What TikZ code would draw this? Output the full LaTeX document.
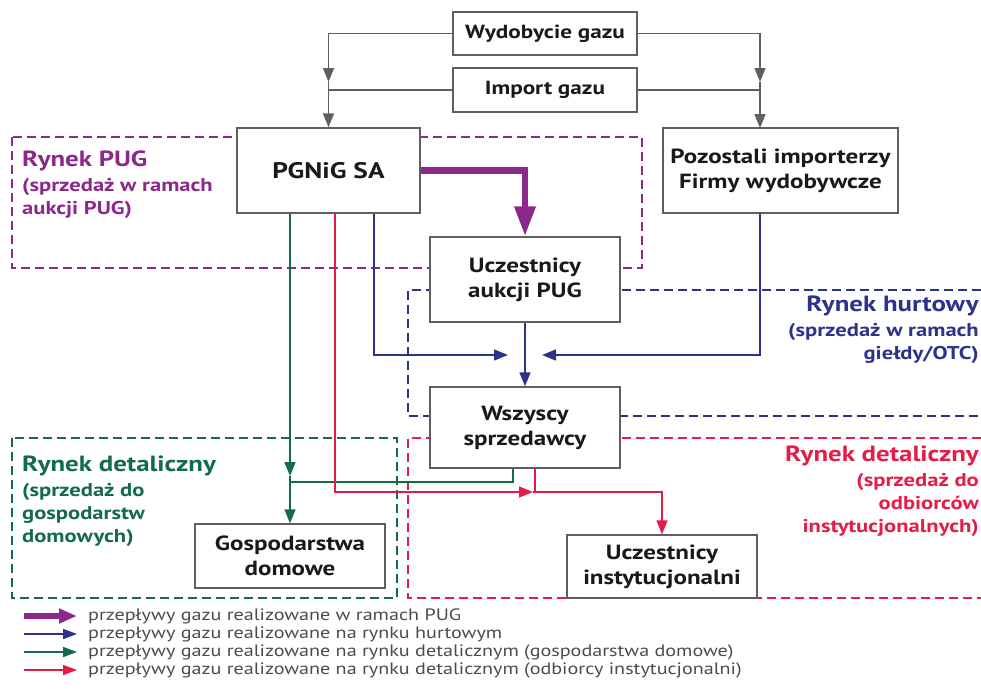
\documentclass[tikz,border=0pt]{standalone}
\usepackage{fontspec}
\setmainfont[FakeStretch=1.22]{PT Sans}
\usetikzlibrary{arrows.meta}

\definecolor{pugcol}{RGB}{140,40,138}
\definecolor{hurtcol}{RGB}{45,50,140}
\definecolor{domcol}{RGB}{18,108,72}
\definecolor{instcol}{RGB}{230,28,72}
\definecolor{boxgray}{RGB}{95,95,95}
\definecolor{legendgray}{RGB}{75,75,75}

\newcommand{\txtsize}[2]{\fontsize{#1}{#2}\selectfont}

\begin{document}
\begin{tikzpicture}[x=1pt,y=-1pt,
    box/.style={draw=boxgray,line width=1.4pt,fill=white,align=center,
                text=black!90,font=\bfseries\txtsize{20.5}{25},inner sep=0pt},
    flow/.style={draw=boxgray,line width=1.4pt},
    tip/.style={-{Triangle[length=14pt,width=11pt]}},
    pugflow/.style={draw=pugcol,line width=6.5pt,-{Triangle[length=30pt,width=20pt]}},
    hurtflow/.style={draw=hurtcol,line width=1.4pt},
    domflow/.style={draw=domcol,line width=1.4pt},
    instflow/.style={draw=instcol,line width=1.4pt},
    zone/.style={line width=1.4pt,dash pattern=on 9pt off 5pt},
    zonelabel/.style={font=\bfseries\txtsize{18.5}{23},inner sep=0pt},
    legendlabel/.style={text=legendgray,font=\txtsize{16.5}{18},anchor=west,inner sep=0pt}]

  \useasboundingbox (0,0) rectangle (981,693);

  % market zones (behind the boxes)
  \draw[zone,pugcol] (12,137) rectangle (642,268);
  \draw[zone,hurtcol] (981,290) -- (408,290) -- (408,416) -- (981,416);
  \draw[zone,domcol] (12,438) rectangle (397,598);
  \draw[zone,instcol] (981,438) -- (408,438) -- (408,598) -- (981,598);

  \node[zonelabel,text=pugcol,anchor=north west,align=left] (puglab) at (22,151)
    {{\txtsize{22}{23}Rynek PUG}\\[2pt](sprzedaż w ramach\\aukcji PUG)};
  \node[zonelabel,text=hurtcol,anchor=north east,align=right] (hurtlab) at (979,296)
    {{\txtsize{22}{23}Rynek hurtowy}\\[2pt](sprzedaż w ramach\\giełdy/OTC)};
  \node[zonelabel,text=domcol,anchor=north west,align=left] (domlab) at (22,456)
    {{\txtsize{22}{23}Rynek detaliczny}\\[2pt](sprzedaż do\\gospodarstw\\domowych)};
  \node[zonelabel,text=instcol,anchor=north east,align=right] (instlab) at (979,446)
    {{\txtsize{22}{23}Rynek detaliczny}\\[2pt](sprzedaż do\\odbiorców\\instytucjonalnych)};

  % boxes
  \node[box,minimum width=184pt,minimum height=43pt,font=\bfseries\txtsize{19}{20}] (wyd) at (545,33.5) {Wydobycie gazu};
  \node[box,minimum width=184pt,minimum height=44pt,font=\bfseries\txtsize{19}{20}] (imp) at (545,90) {Import gazu};
  \node[box,minimum width=183pt,minimum height=85pt,font=\bfseries\txtsize{22.5}{24}] (pgnig) at (328.5,170.5) {PGNiG SA};
  \node[box,minimum width=235pt,minimum height=85pt] (poz) at (780.5,170.5) {Pozostali importerzy\\Firmy wydobywcze};
  \node[box,minimum width=190pt,minimum height=85pt] (ucz) at (525,279.5) {Uczestnicy\\aukcji PUG};
  \node[box,minimum width=190pt,minimum height=81pt] (wsz) at (525,427.5) {Wszyscy\\sprzedawcy};
  \node[box,minimum width=190pt,minimum height=64pt] (gosp) at (290,556) {Gospodarstwa\\domowe};
  \node[box,minimum width=190pt,minimum height=63pt] (inst) at (662,566.5) {Uczestnicy\\instytucjonalni};

  % gas sources
  \coordinate (lmid) at (328.5,82);
  \coordinate (rmid) at (760,82);
  \coordinate (poztop) at (760,128);
  \draw[flow,tip] (wyd.west) -| (lmid);
  \draw[flow,tip] (lmid) -- (pgnig.north);
  \draw[flow] (imp.west) -- (imp.west -| pgnig.north);
  \draw[flow,tip] (wyd.east) -| (rmid);
  \draw[flow,tip] (rmid) -- (poztop);
  \draw[flow] (imp.east) -- (imp.east -| poztop);

  % PUG flow
  \draw[pugflow] (pgnig.east) -| (ucz.north);

  % wholesale flows
  \coordinate (hurtl) at (508,355);
  \coordinate (hurtr) at (542,355);
  \draw[hurtflow,tip] ([xshift=45.5pt]pgnig.south) |- (hurtl);
  \draw[hurtflow,tip] (poztop |- poz.south) |- (hurtr);
  \draw[hurtflow,tip] (ucz) -- (wsz);

  % retail flows, households
  \coordinate (dommid) at (290,476);
  \draw[domflow,tip] (gosp.north |- pgnig.south) -- (dommid);
  \draw[domflow,tip] (dommid) -- (gosp.north);
  \draw[domflow] ([xshift=-12pt]wsz.south) |- (290,482);

  % retail flows, institutions
  \coordinate (instmid) at (533,492);
  \draw[instflow,tip] ([xshift=6.5pt]pgnig.south) |- (instmid);
  \draw[instflow,tip] (instmid) -| (inst.north);
  \draw[instflow] ([xshift=10pt]wsz.south) -- ([xshift=10pt]wsz.south |- instmid);

  % legend
  \coordinate (leg1a) at (24,616);
  \coordinate (leg1b) at (77,616);
  \coordinate (leg2a) at (24,634);
  \coordinate (leg2b) at (77,634);
  \coordinate (leg3a) at (24,652);
  \coordinate (leg3b) at (77,652);
  \coordinate (leg4a) at (24,670);
  \coordinate (leg4b) at (77,670);
  \draw[pugcol,line width=6pt,-{Triangle[length=18pt,width=14pt]}] (leg1a) -- (leg1b);
  \draw[hurtcol,line width=1.6pt,-{Triangle[length=14pt,width=10pt]}] (leg2a) -- (leg2b);
  \draw[domcol,line width=1.6pt,-{Triangle[length=14pt,width=10pt]}] (leg3a) -- (leg3b);
  \draw[instcol,line width=1.6pt,-{Triangle[length=14pt,width=10pt]}] (leg4a) -- (leg4b);
  \node[legendlabel] (leg1) at (88,616) {przepływy gazu realizowane w ramach PUG};
  \node[legendlabel] (leg2) at (88,634) {przepływy gazu realizowane na rynku hurtowym};
  \node[legendlabel] (leg3) at (88,652) {przepływy gazu realizowane na rynku detalicznym (gospodarstwa domowe)};
  \node[legendlabel] (leg4) at (88,670) {przepływy gazu realizowane na rynku detalicznym (odbiorcy instytucjonalni)};
\end{tikzpicture}
\end{document}
